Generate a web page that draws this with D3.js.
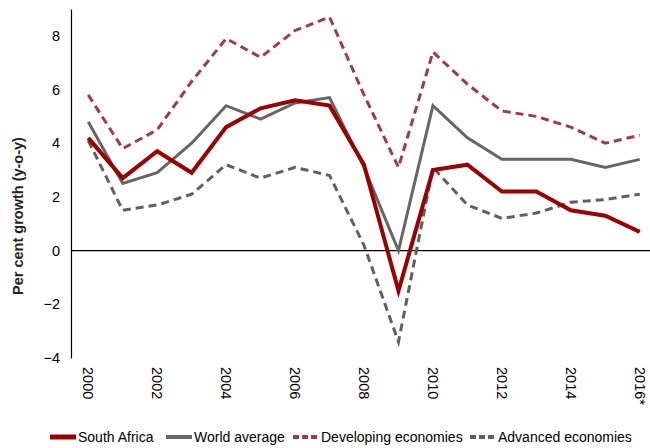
<!DOCTYPE html>
<html>
<head>
<meta charset="utf-8">
<script src="https://cdn.jsdelivr.net/npm/d3@7/dist/d3.min.js"></script>
<style>
    body { margin: 0; background: #fff; }
    svg { font-family: "Liberation Sans", Arial, sans-serif; }
</style>
</head>
<body>
<div id="chart"></div>
<script>
    // chart data
    var years = ["2000", "2001", "2002", "2003", "2004", "2005", "2006", "2007", "2008",
        "2009", "2010", "2011", "2012", "2013", "2014", "2015", "2016*"];
    var southAfrica = [4.2, 2.7, 3.7, 2.9, 4.6, 5.3, 5.6, 5.4, 3.2, -1.5, 3.0, 3.2, 2.2, 2.2, 1.5, 1.3, 0.7];
    var worldAverage = [4.8, 2.5, 2.9, 4.0, 5.4, 4.9, 5.5, 5.7, 3.1, 0.0, 5.4, 4.2, 3.4, 3.4, 3.4, 3.1, 3.4];
    var developing = [5.8, 3.8, 4.5, 6.3, 7.9, 7.2, 8.2, 8.7, 5.8, 3.1, 7.4, 6.2, 5.2, 5.0, 4.6, 4.0, 4.3];
    var advanced = [4.1, 1.5, 1.7, 2.1, 3.2, 2.7, 3.1, 2.8, 0.2, -3.4, 3.1, 1.7, 1.2, 1.4, 1.8, 1.9, 2.1];
    var yTicks = [-4, -2, 0, 2, 4, 6, 8];

    var series = [
        { name: "South Africa", values: southAfrica, color: "#990000", width: 4, dash: null },
        { name: "World average", values: worldAverage, color: "#666666", width: 3, dash: null },
        { name: "Developing economies", values: developing, color: "#a03c3c", width: 3, dash: "8,5" },
        { name: "Advanced economies", values: advanced, color: "#606060", width: 3, dash: "8,5" }
    ];

    var margin = { top: 9, left: 71 },
        plotHeight = 358 - margin.top,
        plotWidth = 586;

    var svg = d3.select("#chart").append("svg")
        .attr("width", 650)
        .attr("height", 448);

    var x = d3.scaleBand()
        .domain(years)
        .range([margin.left, margin.left + plotWidth]);

    var y = d3.scaleLinear()
        .domain([-4, 9])
        .range([margin.top + plotHeight, margin.top]);

    function cx(i) {
        return x(years[i]) + x.bandwidth() / 2;
    }

    // y axis
    var yAxis = svg.append("g")
        .attr("transform", "translate(" + margin.left + ",0)")
        .call(d3.axisLeft(y).tickValues(yTicks).tickSize(0).tickPadding(11).tickFormat(d3.format("d")));
    yAxis.select(".domain").attr("stroke", "#000").attr("stroke-width", 1.2);
    yAxis.selectAll("text").attr("font-size", 14.5).attr("fill", "#000")
        .attr("font-family", "'Liberation Sans', Arial, sans-serif");

    // zero line
    svg.append("line")
        .attr("x1", margin.left).attr("x2", 650)
        .attr("y1", y(0)).attr("y2", y(0))
        .attr("stroke", "#000").attr("stroke-width", 1.2);

    // x labels (rotated)
    svg.append("g").selectAll("text")
        .data(years.filter(function (d, i) { return i % 2 === 0; }))
        .enter().append("text")
        .attr("transform", function (d) {
            return "translate(" + (x(d) + x.bandwidth() / 2 - 5) + ",367) rotate(90)";
        })
        .attr("font-size", 14.5)
        .attr("text-anchor", "start")
        .text(function (d) { return d; });

    // y title
    svg.append("text")
        .attr("transform", "translate(23,216) rotate(-90)")
        .attr("text-anchor", "middle")
        .attr("font-size", 14.5)
        .attr("font-weight", "bold")
        .attr("fill", "#222")
        .text("Per cent growth (y-o-y)");

    // lines
    var line = d3.line()
        .x(function (d, i) { return cx(i); })
        .y(function (d) { return y(d); });

    svg.append("g").selectAll("path")
        .data(series.slice().reverse())
        .enter().append("path")
        .attr("d", function (d) { return line(d.values); })
        .attr("fill", "none")
        .attr("stroke", function (d) { return d.color; })
        .attr("stroke-width", function (d) { return d.width; })
        .attr("stroke-dasharray", function (d) { return d.dash; })
        .attr("stroke-linejoin", "miter");

    // legend
    var legendX = [50, 166, 293, 470];
    var legend = svg.append("g").selectAll("g")
        .data(series)
        .enter().append("g")
        .attr("transform", function (d, i) { return "translate(" + legendX[i] + ",437)"; });
    legend.append("line")
        .attr("x1", 0).attr("x2", 26)
        .attr("stroke", function (d) { return d.color; })
        .attr("stroke-width", function (d) { return d.width + 1; })
        .attr("stroke-dasharray", function (d) { return d.dash ? "6,3" : null; });
    legend.append("text")
        .attr("x", 28).attr("y", 5)
        .attr("font-size", 14)
        .text(function (d) { return d.name; });
</script>
</body>
</html>
